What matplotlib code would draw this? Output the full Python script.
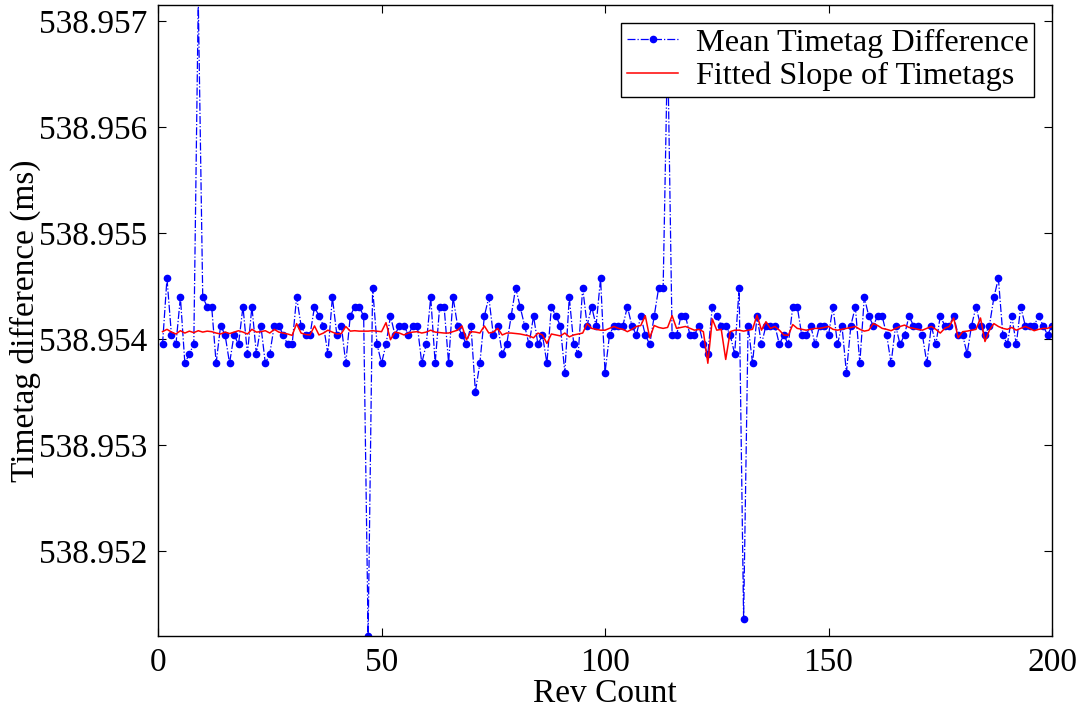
import numpy as np
import matplotlib
matplotlib.use("Agg")
import matplotlib.pyplot as plt

plt.rcParams['font.family'] = ['Liberation Serif', 'DejaVu Serif']

# values are stored as offsets from 538.954 ms, in nanoseconds
base_ms = 538.954
rev_count = np.arange(1, 201)

mean_diff_ns = [
    -51, 572, 38, -51, 394, -229, -140, -51, 3200, 394,
    305, 305, -229, 127, 38, -229, 38, -51, 305, -140,
    305, -140, 127, -229, -140, 127, 127, 38, -51, -51,
    394, 127, 38, 38, 305, 216, 127, -140, 394, 38,
    127, -229, 216, 305, 305, 216, -2800, 483, -51, -229,
    -51, 216, 38, 127, 127, 38, 127, 127, -229, -51,
    394, -229, 305, 305, -229, 394, 127, 38, -51, 127,
    -496, -229, 216, 394, 38, 127, -140, -51, 216, 483,
    305, 127, -51, 216, -51, 38, -229, 305, 216, 127,
    -318, 394, -51, -140, 483, 127, 305, 127, 572, -318,
    38, 127, 127, 127, 305, 127, 38, 216, 38, -51,
    216, 483, 483, 2800, 38, 38, 216, 216, 38, 38,
    127, -51, -140, 305, 216, 127, 127, 38, -140, 483,
    -2640, 127, -229, 216, -51, 127, 127, 127, -51, 38,
    -51, 305, 305, 38, 38, 127, -51, 127, 127, 38,
    305, -51, 127, -318, 127, 305, -229, 394, 216, 127,
    216, 216, 38, -229, 127, -51, 38, 216, 127, 127,
    38, -229, 127, -51, 216, 127, 127, 216, 38, 38,
    -140, 127, 305, 127, 38, 127, 394, 572, 38, -51,
    216, -51, 305, 127, 127, 127, 216, 127, 38, 127,
]

fitted_ns = [
    69, 91, 65, 47, 78, 56, 74, 60, 78, 65,
    74, 69, 56, 47, 65, 51, 65, 78, 65, 47,
    91, 65, 69, 78, 56, 91, 65, 56, 47, 34,
    145, 56, 42, 38, 123, 38, 56, 83, 65, 47,
    51, 118, 74, 78, 74, 74, 74, 78, 74, 69,
    154, -7, 65, 56, 38, 56, 65, 69, 56, 65,
    83, 65, 60, 56, 56, 69, 83, 123, -7, 69,
    65, 56, 123, 56, 65, 100, 38, 56, 56, 51,
    47, 38, 29, 11, 56, 38, -42, 47, 38, 29,
    56, 20, 38, 47, 56, 145, 100, 91, 83, 83,
    100, 118, 100, 91, 69, 91, 118, 127, 220, 11,
    127, 109, 100, 109, 220, 100, 109, 118, 100, 83,
    91, 69, -229, 189, 83, 91, -193, 69, 83, 83,
    74, 83, 91, 225, 83, 163, 100, 118, 83, 38,
    34, 136, 100, 91, 83, 91, 100, 100, 109, 118,
    91, 83, 91, 100, 109, 118, 91, 74, 83, 145,
    127, 100, 91, 78, 100, 118, 131, 109, 100, 91,
    83, 100, 118, 91, 56, 100, 118, 198, 11, 69,
    74, 83, 91, 198, -24, 83, 145, 118, 100, 91,
    109, 83, 100, 118, 100, 78, 91, 100, 100, 118,
]

y_ticks = [538.952, 538.953, 538.954, 538.955, 538.956, 538.957]
x_ticks = [0, 50, 100, 150, 200]

mean_diff = base_ms + np.array(mean_diff_ns) * 1e-6
fitted = base_ms + np.array(fitted_ns) * 1e-6

fig = plt.figure(figsize=(10.81, 7.11), dpi=100)
ax = fig.add_axes([0.1462, 0.1055, 0.8270, 0.8875])

ax.plot(rev_count, mean_diff, linestyle='-.', color='blue', linewidth=0.9,
        marker='.', markersize=9, label='Mean Timetag Difference')
ax.plot(rev_count, fitted, color='red', linewidth=1.1,
        label='Fitted Slope of Timetags')

ax.set_xlim(0, 200)
ax.set_ylim(538.951198, 538.957151)
ax.set_xticks(x_ticks)
ax.set_yticks(y_ticks)
ax.set_yticklabels(['%.3f' % t for t in y_ticks])
ax.tick_params(direction='in', length=6, width=0.8, labelsize=24,
               top=True, right=True, pad=8)
for s in ax.spines.values():
    s.set_linewidth(1.0)

ax.set_xlabel('Rev Count', fontsize=24, labelpad=1)
ax.set_ylabel('Timetag difference (ms)', fontsize=24, labelpad=-2)

leg = ax.legend(loc='upper right', fontsize=23.2, numpoints=1, fancybox=False,
                edgecolor='black', framealpha=1, borderpad=0.17,
                labelspacing=0.12, handlelength=1.6, handletextpad=0.55,
                borderaxespad=0.55)
leg.get_frame().set_linewidth(1.0)

fig.savefig('out.png', dpi=100)
